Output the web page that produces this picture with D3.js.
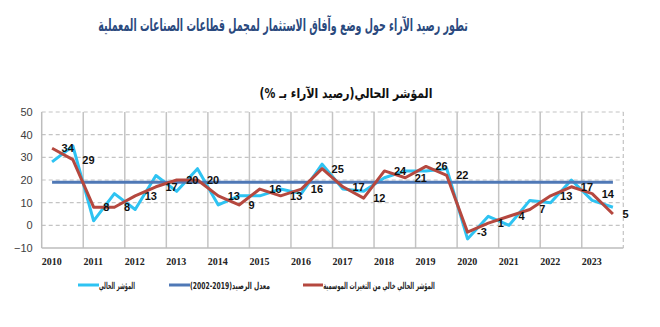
<!DOCTYPE html>
<html>
<head>
<meta charset="utf-8">
<script src="https://cdn.jsdelivr.net/npm/d3@7/dist/d3.min.js"></script>
<style>
  html, body { margin: 0; padding: 0; background: #fff; }
  svg { display: block; }
</style>
</head>
<body>
<svg id="chart" width="660" height="327"></svg>
<script>
// Half-yearly survey balance for the manufacturing sector, 2010–2023
const years = ["2010","2011","2012","2013","2014","2015","2016","2017","2018","2019","2020","2021","2022","2023"];
const halves = ["H1","H2"];
const periods = years.flatMap(y => halves.map(h => y + "-" + h));

// Current indicator (raw)
const currentIndex = [28,35,2,14,7,22,15,25,9,13,13,16,14,27,16,15,21,24,24,25,-6,4,0,11,10,20,11,8];
// Current indicator, seasonally adjusted (labelled values)
const adjustedIndex = [34,29,8,8,13,17,20,20,13,9,16,13,16,25,17,12,24,21,26,22,-3,1,4,7,13,17,14,5];
// Long-run average balance 2002–2019
const averageBalance = 19;

const yTicks = [-10,0,10,20,30,40,50];

const titleText = "تطور رصيد الآراء حول وضع وآفاق الاستثمار لمجمل قطاعات الصناعات المعملية";
const subtitleText = "المؤشر الحالي(رصيد الآراء بـ %)";
const legendItems = [
  { name: "المؤشر الحالي", key: "current" },
  { name: "معدل الرصيد(2019-2002)", key: "average" },
  { name: "المؤشر الحالي خالي من التغيرات الموسمية", key: "adjusted" }
];

const colors = { current: "#2EC3F2", average: "#4F78B6", adjusted: "#B5483F" };

const svg = d3.select("#chart");
const plot = { left: 41.7, right: 623.3, top: 112, bottom: 248 };

const x = d3.scaleBand().domain(periods).range([plot.left, plot.right]).padding(0);
const xc = d => x(d) + x.bandwidth() / 2;
const y = d3.scaleLinear().domain([-10, 50]).range([plot.bottom, plot.top]);

const arabicFont = "'DejaVu Sans', sans-serif";

// Centered Arabic text, squeezed horizontally to span a given width
function arabicLabel(parent, cx, cy, target, size, color) {
  const g = parent.append("g");
  const t = g.append("text")
    .attr("x", 0).attr("y", 0)
    .attr("direction", "rtl")
    .attr("text-anchor", "middle")
    .attr("font-family", arabicFont)
    .attr("font-weight", "bold")
    .attr("font-size", size)
    .attr("fill", color);
  return {
    text(str) {
      t.text(str);
      const w = t.node().getComputedTextLength();
      const sx = w > 0 ? target / w : 1;
      g.attr("transform", `translate(${cx},${cy}) scale(${sx.toFixed(4)},1)`);
      return t;
    }
  };
}

// Title
arabicLabel(svg, 283, 31, 370, 17, "#2B4A7E").text(titleText);

// Subtitle
arabicLabel(svg, 346, 98, 173, 13.5, "#111").text(subtitleText);

// Grid
const grid = svg.append("g");
grid.selectAll("line.h")
  .data(yTicks.filter(t => t > -10))
  .join("line")
  .attr("x1", plot.left).attr("x2", plot.right)
  .attr("y1", d => y(d)).attr("y2", d => y(d))
  .attr("stroke", "#c4c4c4").attr("stroke-width", 1.2)
  .attr("stroke-dasharray", "4,3");

grid.selectAll("line.v")
  .data(years.slice(1))
  .join("line")
  .attr("x1", d => x(d + "-H1")).attr("x2", d => x(d + "-H1"))
  .attr("y1", plot.top).attr("y2", plot.bottom)
  .attr("stroke", "#c4c4c4").attr("stroke-width", 1.5);

// Right border dashed
grid.append("line")
  .attr("x1", plot.right).attr("x2", plot.right)
  .attr("y1", plot.top).attr("y2", plot.bottom)
  .attr("stroke", "#c4c4c4").attr("stroke-width", 1.2)
  .attr("stroke-dasharray", "4,3");

// Axis lines
grid.append("line")
  .attr("x1", plot.left).attr("x2", plot.left)
  .attr("y1", plot.top).attr("y2", plot.bottom)
  .attr("stroke", "#bdbdbd").attr("stroke-width", 1.5);
grid.append("line")
  .attr("x1", plot.left).attr("x2", plot.right)
  .attr("y1", plot.bottom).attr("y2", plot.bottom)
  .attr("stroke", "#bdbdbd").attr("stroke-width", 1.5);

// Y axis labels
const yAxis = d3.axisLeft(y).tickValues(yTicks).tickSize(0).tickPadding(9);
const yg = svg.append("g").attr("transform", `translate(${plot.left},0)`).call(yAxis);
yg.select(".domain").remove();
yg.selectAll("text")
  .attr("font-family", "'Liberation Sans', Arial, sans-serif")
  .attr("font-size", 11)
  .attr("fill", "#404040");

// X axis year labels, placed at the start of each year
svg.append("g").selectAll("text")
  .data(years)
  .join("text")
  .attr("x", d => x(d + "-H1") + 10)
  .attr("y", 265)
  .attr("text-anchor", "middle")
  .attr("font-family", "'Liberation Serif', 'Times New Roman', serif")
  .attr("font-weight", "bold")
  .attr("font-size", 10)
  .attr("fill", "#222")
  .text(d => d);

// Series
const line = d3.line()
  .x((d, i) => xc(periods[i]))
  .y(d => y(d));

svg.append("path")
  .datum(currentIndex)
  .attr("d", line)
  .attr("fill", "none")
  .attr("stroke", colors.current)
  .attr("stroke-width", 3)
  .attr("stroke-linejoin", "round");

svg.append("line")
  .attr("x1", xc(periods[0])).attr("x2", xc(periods[periods.length - 1]))
  .attr("y1", y(averageBalance)).attr("y2", y(averageBalance))
  .attr("stroke", colors.average)
  .attr("stroke-width", 2.8);

svg.append("path")
  .datum(adjustedIndex)
  .attr("d", line)
  .attr("fill", "none")
  .attr("stroke", colors.adjusted)
  .attr("stroke-width", 3)
  .attr("stroke-linejoin", "round");

// Value labels on the adjusted series
svg.append("g").selectAll("text")
  .data(adjustedIndex)
  .join("text")
  .attr("x", (d, i) => xc(periods[i]) + 9.5)
  .attr("y", d => y(d))
  .attr("dy", "0.36em")
  .attr("font-family", "'Liberation Sans', Arial, sans-serif")
  .attr("font-weight", "bold")
  .attr("font-size", 11)
  .attr("fill", "#111")
  .text(d => d);

// Legend
const legendPos = [
  { x1: 78, x2: 99, tc: 117, tw: 36 },
  { x1: 169, x2: 190, tc: 230, tw: 80 },
  { x1: 303, x2: 323, tc: 379, tw: 112 }
];
const lg = svg.append("g");
legendItems.forEach((item, i) => {
  const p = legendPos[i];
  lg.append("line")
    .attr("x1", p.x1).attr("x2", p.x2)
    .attr("y1", 285).attr("y2", 285)
    .attr("stroke", colors[item.key])
    .attr("stroke-width", 3);
  arabicLabel(lg, p.tc, 288.5, p.tw, 9.5, "#222").text(item.name);
});
</script>
</body>
</html>
